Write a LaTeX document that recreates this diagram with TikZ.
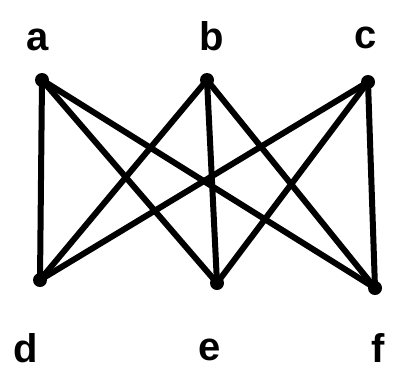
\documentclass[tikz,border=0pt]{standalone}
\usepackage{fontspec}
\setmainfont{Liberation Sans}
\begin{document}
\begin{tikzpicture}[x=1pt,y=-1pt,
  vtx/.style={circle,fill=black,inner sep=0pt,minimum size=14pt},
  lbl/.style={font=\fontsize{40}{40}\selectfont\bfseries,inner sep=0pt},
  edge/.style={line width=6pt,line cap=round,line join=round}]
\useasboundingbox (0,0) rectangle (396,378);
\node[vtx] (a) at (42,80) {};
\node[vtx] (b) at (207,80) {};
\node[vtx] (c) at (368,82) {};
\node[vtx] (d) at (40,280) {};
\node[vtx] (e) at (217,283) {};
\node[vtx] (f) at (375,288) {};
\node[lbl] (la) at (38,40) {a};
\node[lbl] (lb) at (212,36) {b};
\node[lbl] (lc) at (366,38) {c};
\node[lbl] (ld) at (26,348) {d};
\node[lbl] (le) at (210,350) {e};
\node[lbl] (lf) at (378,348) {f};
\foreach \u in {a,b,c}
  \foreach \v in {d,e,f}
    \draw[edge] (\u.center) -- (\v.center);
\end{tikzpicture}
\end{document}
